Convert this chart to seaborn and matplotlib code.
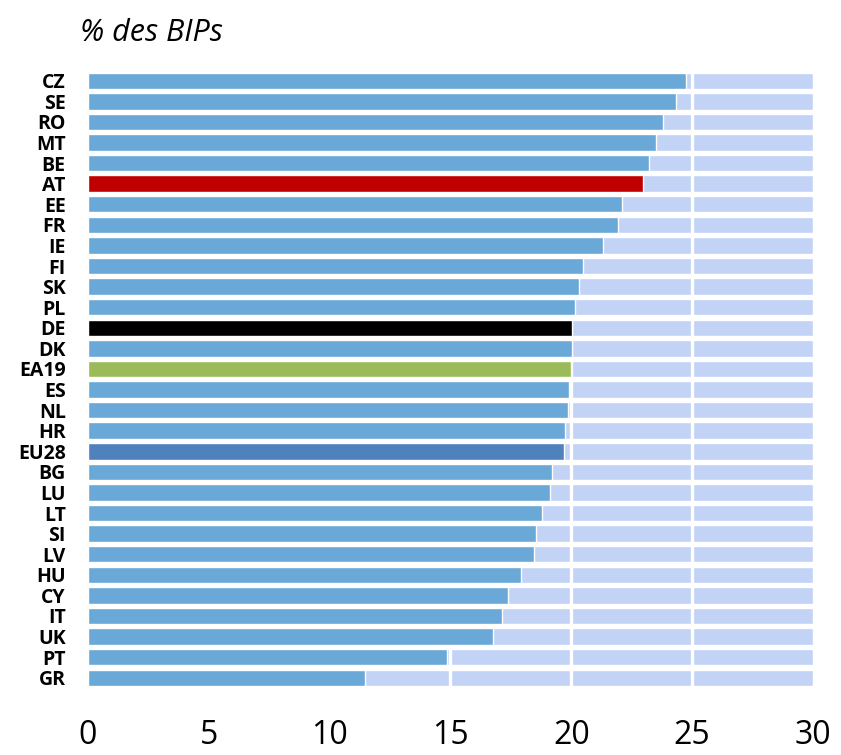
import matplotlib
matplotlib.use('Agg')
import matplotlib.pyplot as plt
import seaborn as sns
import pandas as pd

# data (% of GDP)
countries = ['CZ', 'SE', 'RO', 'MT', 'BE', 'AT', 'EE', 'FR', 'IE', 'FI',
             'SK', 'PL', 'DE', 'DK', 'EA19', 'ES', 'NL', 'HR', 'EU28', 'BG',
             'LU', 'LT', 'SI', 'LV', 'HU', 'CY', 'IT', 'UK', 'PT', 'GR']
values = [24.75, 24.35, 23.8, 23.5, 23.2, 22.95, 22.1, 21.95, 21.3, 20.5,
          20.3, 20.15, 20.05, 20.05, 19.98, 19.9, 19.85, 19.75, 19.7, 19.2,
          19.1, 18.8, 18.55, 18.45, 17.9, 17.4, 17.15, 16.75, 14.85, 11.45]
highlight = {'AT': '#c00000', 'DE': '#000000', 'EA19': '#9bbb59', 'EU28': '#4f81bd'}
base_color = '#6aa8d8'
band_color = '#c2d3f6'
x_max = 30

df = pd.DataFrame({'country': countries, 'value': values})
df['band'] = x_max
palette = {c: highlight.get(c, base_color) for c in countries}

sns.set_theme(style='white')
plt.rcParams['font.family'] = ['Open Sans', 'DejaVu Sans']
plt.rcParams['text.color'] = 'black'
plt.rcParams['xtick.color'] = 'black'
plt.rcParams['ytick.color'] = 'black'

fig = plt.figure(figsize=(8.41, 7.55), dpi=100)
ax = fig.add_axes([0.1046, 0.0887, 0.862, 0.818])

# light background band for every row
sns.barplot(data=df, x='band', y='country', color=band_color, width=0.8,
            saturation=1, ax=ax, zorder=1)
# white vertical grid lines
for v in range(5, x_max, 5):
    ax.axvline(v, color='white', lw=2.4, zorder=2)
# actual values
sns.barplot(data=df, x='value', y='country', hue='country', palette=palette,
            legend=False, width=0.8, saturation=1, ax=ax, zorder=3)

ax.set_xlim(0, x_max)
ax.set_ylim(len(countries) - 0.5, -0.5)
ax.set_xticks(range(0, x_max + 1, 5))
ax.set_xlabel('')
ax.set_ylabel('')
sns.despine(ax=ax, left=True, bottom=True)
ax.tick_params(axis='x', length=0, pad=22, labelsize=23)
ax.tick_params(axis='y', length=0, pad=16, labelsize=14)
for lab in ax.get_yticklabels():
    lab.set_fontweight('bold')

fig.text(0.095, 0.956, '% des BIPs', fontsize=22, fontstyle='italic',
         va='center', ha='left')

fig.savefig('out.png', dpi=100)
